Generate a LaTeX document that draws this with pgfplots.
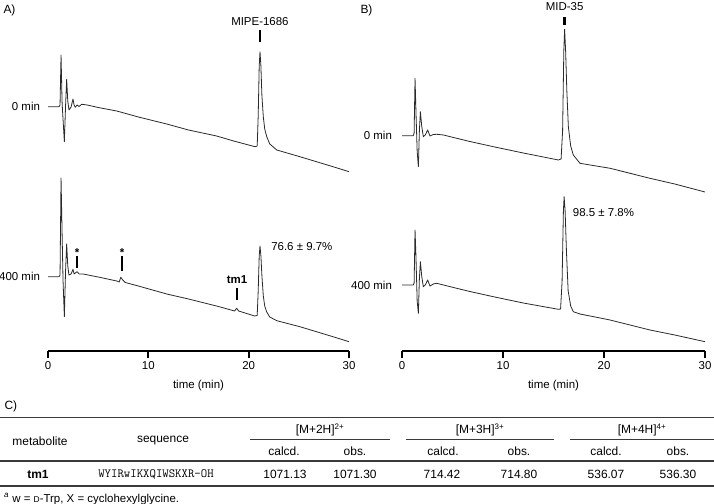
\documentclass[border=0pt]{standalone}
\usepackage{pgfplots}
\pgfplotsset{compat=1.18}
\usepackage{fontspec}
\setmainfont{Liberation Sans}
\newcommand\lab{\fontsize{11.5}{13}\selectfont}
\newcommand\tab{\fontsize{12}{14}\selectfont}
\definecolor{trace}{HTML}{2A2A2A}
\definecolor{rule}{HTML}{3A3A3A}
\pgfplotsset{
  chrom/.style={
    scale only axis, clip=false,
    width=301bp, height=351bp,
    xmin=0, xmax=30, ymin=0, ymax=351,
    axis x line=bottom, axis y line=none,
    x axis line style={line width=1.8bp, black, -},
    xtick={0,10,20,30},
    tick align=outside, major tick length=7bp,
    every tick/.style={line width=1.8bp, black},
    xticklabel style={font=\lab},
    /pgf/number format/assume math mode=true,
  },
  tr/.style={trace, line width=0.8bp, line join=round},
}
\begin{document}
\begin{tikzpicture}[x=1bp,y=1bp]
\path[use as bounding box] (0,0) rectangle (714,504);

% ---------------- Panel A ----------------
\begin{axis}[chrom, at={(48bp,153bp)}, anchor=south west, width=301bp]
\addplot[tr] coordinates {
(0,244.3) (1.1,244.3) (1.2,246) (1.3,296) (1.4,250) (1.45,240) (1.63,209.3)
(1.75,245) (1.86,271.7) (1.97,250) (2.09,241) (2.3,244) (2.49,252) (2.6,246)
(2.72,243.7) (2.9,246) (3.1,244.5) (3.36,246.7) (3.9,246) (5,243.5) (6.85,240)
(9,234) (11.83,227) (14,221) (16.8,215) (18.5,210) (20.63,204.3) (20.85,205)
(20.95,235) (21.05,285) (21.13,299.3) (21.22,285) (21.32,255) (21.46,234)
(21.6,222) (21.8,214.3) (22.1,207) (22.8,201) (25.1,194.3) (28.4,184.3) (30,179.3)
};
\addplot[tr] coordinates {
(0,74.3) (1.1,74.3) (1.2,76) (1.3,173) (1.4,120) (1.5,70) (1.63,34.3)
(1.75,80) (1.86,107) (1.97,85) (2.09,76) (2.3,77) (2.49,81.7) (2.6,77)
(2.72,78) (2.9,79.3) (3.1,77) (3.5,77) (5,74) (6.85,70) (7.1,69) (7.25,73.7)
(7.45,71) (7.7,68.5) (9,65) (11.83,57) (14,52) (16.8,45) (18.6,40) (18.8,42.7)
(19.0,40) (20.6,35) (20.85,35.5) (20.95,60) (21.05,95) (21.13,105) (21.22,95)
(21.32,75) (21.46,55) (21.6,45) (21.8,39) (22.1,34) (22.8,30.3) (25.1,24.3)
(28.4,14.3) (30,9.3)
};
\draw[line width=2.6bp] (axis cs:21.12,309) -- (axis cs:21.12,321);
\node[font=\lab] at (axis cs:21.12,329) {MIPE-1686};
\draw[line width=2.4bp] (axis cs:2.89,83) -- (axis cs:2.89,95);
\node[font=\lab\bfseries] at (axis cs:2.89,98) {*};
\draw[line width=2.4bp] (axis cs:7.38,80) -- (axis cs:7.38,95);
\node[font=\lab\bfseries] at (axis cs:7.38,98) {*};
\draw[line width=2.4bp] (axis cs:18.84,51) -- (axis cs:18.84,63);
\node[font=\lab\bfseries] at (axis cs:18.84,71) {tm1};
\node[font=\lab] at (axis cs:25.3,104.3) {76.6 ± 9.7\%};
\node[font=\lab, anchor=east] at (axis cs:-0.45,244.3) {0 min};
\node[font=\lab, anchor=east] at (axis cs:-0.45,74.3) {400 min};
\node[font=\lab] at (axis cs:15,-35) {time (min)};
\end{axis}

% ---------------- Panel B ----------------
\begin{axis}[chrom, at={(402bp,153bp)}, anchor=south west, width=303bp]
\addplot[tr] coordinates {
(0,215.3) (1.12,215.3) (1.2,218) (1.29,272.7) (1.38,240) (1.5,200) (1.62,184.3)
(1.72,220) (1.82,239.3) (1.95,225) (2.11,214.3) (2.3,216) (2.54,221) (2.77,215)
(3.1,216.5) (3.43,216.7) (4.1,216) (6.5,210) (9.04,204.3) (12,198) (15.48,191)
(15.75,192) (15.9,220) (16.02,300) (16.1,321.7) (16.2,300) (16.32,260)
(16.47,224.3) (16.7,205) (16.96,196) (17.62,187.7) (20.6,182.7) (24.55,172.7)
(27,167) (30,159)
};
\addplot[tr] coordinates {
(0,66) (1.12,66) (1.2,68) (1.29,121) (1.38,95) (1.5,50) (1.62,37.7)
(1.72,72) (1.82,89.3) (1.95,75) (2.11,64.3) (2.3,66) (2.54,71) (2.77,65)
(3.1,67) (3.43,67.7) (4.1,66) (6.5,60) (9.04,54.3) (12,48) (15.48,41.7)
(15.7,42) (15.85,70) (15.98,140) (16.05,154.3) (16.15,140) (16.28,100)
(16.45,60) (16.7,45) (16.96,39.3) (17.62,37) (20.6,31) (24.55,21) (27,16) (30,9.3)
};
\draw[line width=2.6bp] (axis cs:16.1,326) -- (axis cs:16.1,334);
\node[font=\lab] at (axis cs:16.1,344) {MID-35};
\node[font=\lab] at (axis cs:19.95,138) {98.5 ± 7.8\%};
\node[font=\lab, anchor=east] at (axis cs:-0.65,215.3) {0 min};
\node[font=\lab, anchor=east] at (axis cs:-0.65,66) {400 min};
\node[font=\lab] at (axis cs:15,-35) {time (min)};
\end{axis}

% panel letters
\node[font=\fontsize{12}{14}\selectfont, anchor=west] at (0,494) {A)};
\node[font=\fontsize{12}{14}\selectfont, anchor=west] at (357,494) {B)};
\node[font=\fontsize{12}{14}\selectfont, anchor=west] at (1,97.3) {C)};

% ---------------- Table C ----------------
\draw[rule, line width=1.5bp] (0,86.3) -- (714,86.3);
\draw[rule, line width=1.5bp] (0,43) -- (714,43);
\draw[rule, line width=1.5bp] (0,18) -- (714,18);
\draw[rule, line width=1.1bp] (250,64.7) -- (390,64.7);
\draw[rule, line width=1.1bp] (406,64.7) -- (554,64.7);
\draw[rule, line width=1.1bp] (570,64.7) -- (714,64.7);
\begin{scope}[every node/.style={font=\tab, inner sep=0pt}]
\node at (320,74) {[M+2H]\textsuperscript{2+}};
\node at (480,74) {[M+3H]\textsuperscript{3+}};
\node at (642,74) {[M+4H]\textsuperscript{4+}};
\node at (40,63) {metabolite};
\node at (163,63) {sequence};
\node at (284,52.3) {calcd.};
\node at (355,52.3) {obs.};
\node at (443,52.3) {calcd.};
\node at (519,52.3) {obs.};
\node at (606,52.3) {calcd.};
\node at (678,52.3) {obs.};
\node[font=\tab\bfseries] at (38,30) {tm1};
\node[font=\ttfamily\fontsize{12.5}{14}\selectfont] at (156,30) {WYIRwIKXQIWSKXR-OH};
\node at (285,30) {1071.13};
\node at (355,30) {1071.30};
\node at (442,30) {714.42};
\node at (519,30) {714.80};
\node at (606,30) {536.07};
\node at (678,30) {536.30};
\node[anchor=west, font=\fontsize{11.5}{12}\selectfont] at (4,5) {\textsuperscript{\itshape a} w = {\fontsize{8.5}{9}\selectfont D}-Trp, X = cyclohexylglycine.};
\end{scope}
\end{tikzpicture}
\end{document}
